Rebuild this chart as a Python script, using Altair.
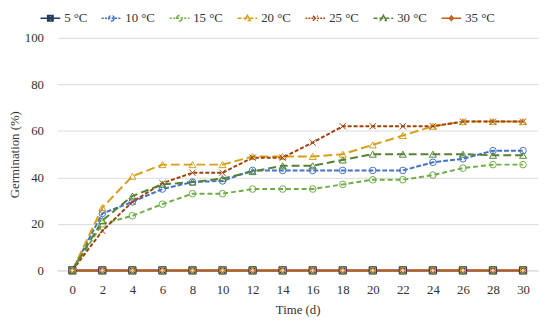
import altair as alt
import pandas as pd

days = [0, 2, 4, 6, 8, 10, 12, 14, 16, 18, 20, 22, 24, 26, 28, 30]
series_names = ["5 °C", "10 °C", "15 °C", "20 °C", "25 °C", "30 °C", "35 °C"]
g5 = [0, 0, 0, 0, 0, 0, 0, 0, 0, 0, 0, 0, 0, 0, 0, 0]
g10 = [0, 24.5, 29.5, 35, 38, 38.5, 43, 43, 43, 43, 43, 43, 46.5, 48, 51.5, 51.5]
g15 = [0, 20, 23.5, 28.5, 33, 33, 35, 35, 35, 37, 39, 39, 41, 44, 45.5, 45.5]
g20 = [0, 27, 40.5, 45.5, 45.5, 45.5, 49, 49, 49, 50, 54, 58, 62, 64, 64, 64]
g25 = [0, 17, 29.5, 37.5, 42, 42, 48.5, 48.5, 55, 62, 62, 62, 62, 64, 64, 64]
g30 = [0, 21.5, 32, 37, 38, 39.5, 42.5, 45, 45, 47.5, 50, 50, 50, 50, 49.5, 49.5]
g35 = [0, 0, 0, 0, 0, 0, 0, 0, 0, 0, 0, 0, 0, 0, 0, 0]
series_values = [g5, g10, g15, g20, g25, g30, g35]
y_ticks = [0, 20, 40, 60, 80, 100]
x_ticks = days

colors = ["#203864", "#4472C4", "#70AD47", "#D4A017", "#A0410D", "#548235", "#C55A11"]
fills = ["#C8B42A", "white", "white", "white", "white", "white", "#F8CBAD"]
dashes = [[1, 0], [5, 2], [5, 3], [9, 4], [4, 2], [8, 4], [1, 0]]

FONT = "Liberation Serif"
TXT = "#333333"

rows = []
for name, vals in zip(series_names, series_values):
    for d, v in zip(days, vals):
        rows.append({"day": d, "g": v, "series": name})
df = pd.DataFrame(rows)


def dash_line(d, g):
    parts = []
    x = -1.0
    while x < 1.0:
        x2 = min(x + d, 1.0)
        parts.append(f"M{x:.3f},0L{x2:.3f},0")
        x = x2 + g
    return "".join(parts)


solid = "M-1,0L1,0"
circle = "M0.28,0A0.28,0.28 0 1,1 -0.28,0A0.28,0.28 0 1,1 0.28,0"
tri = "M0,-0.3L0.3,0.24L-0.3,0.24Z"
xmark = "M-0.25,-0.25L0.25,0.25M-0.25,0.25L0.25,-0.25"
square_x = "M-0.28,-0.28L0.28,-0.28L0.28,0.28L-0.28,0.28ZM-0.2,-0.2L0.2,0.2M-0.2,0.2L0.2,-0.2"
diamond = "M0,-0.24L0.2,0L0,0.24L-0.2,0Z"

legend_paths = [
    solid + square_x,
    dash_line(0.22, 0.12) + circle,
    dash_line(0.22, 0.15) + circle,
    dash_line(0.4, 0.2) + tri,
    dash_line(0.18, 0.12) + xmark,
    dash_line(0.4, 0.2) + tri,
    solid + diamond,
]

chart_shapes = [
    "M-1,-1L1,-1L1,1L-1,1ZM-0.75,-0.75L0.75,0.75M-0.75,0.75L0.75,-0.75",
    "circle",
    "circle",
    "triangle-up",
    "M-1,-1L1,1M-1,1L1,-1",
    "triangle-up",
    "diamond",
]
chart_sizes = [55, 45, 45, 50, 40, 50, 25]
chart_filled = [True, False, False, False, False, False, True]

x_enc = alt.X("day:Q", scale=alt.Scale(domain=[-1, 31], nice=False),
              axis=alt.Axis(values=x_ticks, title="Time (d)", grid=False, ticks=False,
                            domain=True, domainColor="#D9D9D9", labelPadding=13,
                            labelOverlap=False, labelFlush=False, titlePadding=8))
y_enc = alt.Y("g:Q", scale=alt.Scale(domain=[0, 100], nice=False),
              axis=alt.Axis(values=y_ticks, title="Germination (%)", grid=True,
                            gridColor="#D9D9D9", ticks=False, domain=False,
                            labelPadding=14, labelOverlap=False,
                            titleX=-36, titleY=118))

legend_layer = alt.Chart(df).mark_point(filled=True, opacity=0).encode(
    x=x_enc, y=y_enc,
    shape=alt.Shape("series:N", scale=alt.Scale(domain=series_names, range=legend_paths),
                    legend=alt.Legend(title=None, orient="none", direction="horizontal",
                                      columns=7, legendX=-18, legendY=-31,
                                      symbolSize=400, symbolStrokeWidth=1.4,
                                      symbolOpacity=1, labelOffset=3, columnPadding=11,
                                      labelFont=FONT, labelFontSize=13, labelColor=TXT)),
    stroke=alt.Stroke("series:N", scale=alt.Scale(domain=series_names, range=colors)),
    fill=alt.Fill("series:N", scale=alt.Scale(domain=series_names, range=fills)),
)

lines = alt.Chart(df).mark_line(strokeWidth=2).encode(
    x=x_enc, y=y_enc,
    color=alt.Color("series:N", scale=alt.Scale(domain=series_names, range=colors), legend=None),
    strokeDash=alt.StrokeDash("series:N", scale=alt.Scale(domain=series_names, range=dashes), legend=None),
    detail="series:N",
)

point_layers = []
for i, name in enumerate(series_names):
    sub = df[df["series"] == name]
    if chart_filled[i]:
        mk = alt.Chart(sub).mark_point(shape=chart_shapes[i], size=chart_sizes[i], filled=True,
                                       fill=fills[i], stroke=colors[i], strokeWidth=1, opacity=1)
    else:
        mk = alt.Chart(sub).mark_point(shape=chart_shapes[i], size=chart_sizes[i], filled=False,
                                       stroke=colors[i], strokeWidth=1, opacity=1)
    point_layers.append(mk.encode(x=x_enc, y=y_enc))

chart = alt.layer(legend_layer, lines, *point_layers).properties(
    width=488, height=236,
    autosize=alt.AutoSizeParams(type="none"),
    padding={"left": 50, "top": 28, "right": 4, "bottom": 50},
).configure_view(stroke=None).configure_axis(
    labelFont=FONT, labelFontSize=13, labelColor=TXT,
    titleFont=FONT, titleFontSize=13, titleColor=TXT, titleFontWeight="normal",
)

chart.save("out.html", embed_options={"renderer": "svg", "actions": False})
